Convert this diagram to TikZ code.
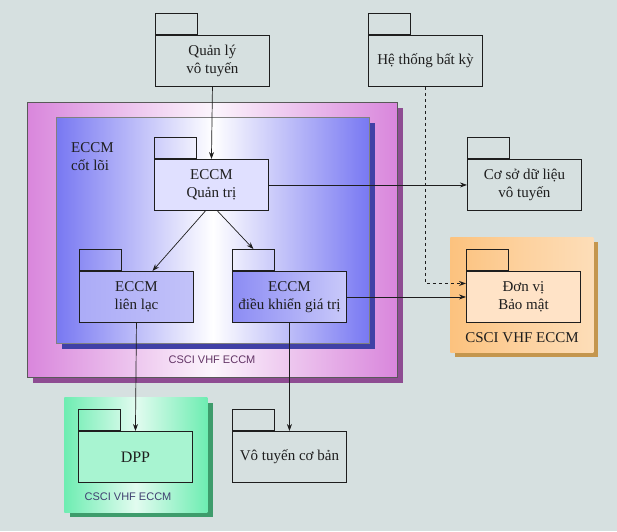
\documentclass[tikz,border=0pt]{standalone}
\usepackage{fontspec}
\setmainfont{Liberation Serif}
\newfontfamily\labelsans{Liberation Sans}
\usetikzlibrary{arrows.meta,calc}
\definecolor{bgc}{HTML}{D6E0E0}
\definecolor{pinkc}{HTML}{D986DC}
\definecolor{pinkshadow}{HTML}{8E4C92}
\definecolor{bluec}{HTML}{7878F2}
\definecolor{blueshadow}{HTML}{4040A6}
\definecolor{orangec}{HTML}{FCC27E}
\definecolor{orangeshadow}{HTML}{C4964E}
\definecolor{greenc}{HTML}{6EEDB2}
\definecolor{greenshadow}{HTML}{3E9C6C}
\definecolor{inkc}{HTML}{1E1E1E}
\tikzset{
  pkgbody/.style={draw=inkc, line width=0.9pt, inner sep=0pt, anchor=north west,
    minimum width=114pt, minimum height=51pt, align=center,
    font=\fontsize{15}{18}\selectfont, text=inkc},
  pkgtab/.style={draw=inkc, line width=0.9pt, inner sep=0pt, anchor=south west,
    minimum width=42pt, minimum height=21pt},
  container/.style={draw=black!60, line width=0.6pt, inner sep=0pt, anchor=north west},
  arr/.style={draw=inkc, line width=0.7pt, -{Stealth[length=7pt,width=5pt]}},
  dasharr/.style={arr, line width=1pt, dash pattern=on 3.5pt off 2.5pt},
  sanslabel/.style={font=\labelsans\fontsize{11}{13}\selectfont},
}
\begin{document}
\begin{tikzpicture}[x=1pt,y=-1pt]
\useasboundingbox (0,0) rectangle (617,531);
\fill[bgc] (0,0) rectangle (617,531);

% ---- pink container (CSCI VHF ECCM)
\fill[pinkshadow] (33,108) rectangle (403,383);
\node[container, draw=black!65, minimum width=370pt, minimum height=275pt,
  left color=pinkc, right color=pinkc, middle color=white!92!pinkc] (csci) at (27,102) {};
\node[sanslabel, text=pinkshadow!70!black] (csciL) at (212,360) {CSCI VHF ECCM};

% ---- blue container (ECCM core)
\fill[blueshadow] (62,123) rectangle (375,349);
\node[container, draw=black!50, minimum width=313pt, minimum height=226pt,
  left color=bluec, right color=bluec, middle color=white] (core) at (56,117) {};
\node[anchor=north west, align=left, inner sep=0pt, font=\fontsize{15}{18}\selectfont, text=inkc]
  (coreL) at (71,142) {ECCM\\cốt lõi};

% ---- orange container
\fill[orangeshadow] (455,242) rectangle (598,357);
\node[container, draw=none, minimum width=143pt, minimum height=115pt,
  left color=orangec, right color=orangec!55!white, middle color=orangec!75!white] (orange) at (450,237) {};
\node[font=\fontsize{15}{17}\selectfont, text=inkc] (orangeL) at (522,338) {CSCI VHF ECCM};

% ---- green container
\fill[greenshadow] (70,403) rectangle (213,517);
\node[container, draw=none, minimum width=143pt, minimum height=115pt,
  left color=greenc, right color=greenc, middle color=white!80!greenc] (green) at (64,397) {};
\node[sanslabel, text=blue!25!black!75] (greenL) at (128,497) {CSCI VHF ECCM};

% ---- packages
\node[pkgbody] (ql) at (155,35) {Quản lý\\vô tuyến};
\node[pkgtab] (qlt) at (ql.north west) {};

\node[pkgbody] (ht) at (368,35) {Hệ thống bất kỳ};
\node[pkgtab] (htt) at (ht.north west) {};

\node[pkgbody] (cs) at (467,159) {Cơ sở dữ liệu\\vô tuyến};
\node[pkgtab] (cst) at (cs.north west) {};

\node[pkgbody, fill=blue!12!white] (qt) at (154,159) {ECCM\\Quản trị};
\node[pkgtab] (qtt) at (qt.north west) {};

\node[pkgbody, left color=bluec!62!white, right color=bluec!45!white] (ll) at (79,271) {ECCM\\liên lạc};
\node[pkgtab] (llt) at (ll.north west) {};

\node[pkgbody, left color=bluec!85!white, right color=bluec!40!white] (dk) at (232,271) {ECCM\\điều khiển giá trị};
\node[pkgtab] (dkt) at (dk.north west) {};

\node[pkgbody, fill=orange!22!white] (dv) at (466,271) {Đơn vị\\Bảo mật};
\node[pkgtab] (dvt) at (dv.north west) {};

\node[pkgbody, fill=greenc!60!white, font=\fontsize{16}{19}\selectfont] (dpp) at (78,431) {DPP};
\node[pkgtab] (dppt) at (dpp.north west) {};

\node[pkgbody] (vt) at (232,431) {Vô tuyến cơ bản};
\node[pkgtab] (vtt) at (vt.north west) {};

% ---- connectors
\draw[arr] (ql.south) -- (qt.north);
\draw[arr] (qt.east) -- (cs.west);
\draw[arr] ($(qt.south)+(-6pt,0)$) -- ($(ll.north)+(16pt,0)$);
\draw[arr] ($(qt.south)+(6pt,0)$) -- (dkt.north);
\draw[arr] (dk.east) -- (dv.west);
\draw[dasharr] (ht.south) |- ($(dv.west)+(0,13.5pt)$);
\draw[arr] (ll.south) -- (dpp.north);
\draw[arr] (dk.south) -- (vt.north);
\end{tikzpicture}
\end{document}
